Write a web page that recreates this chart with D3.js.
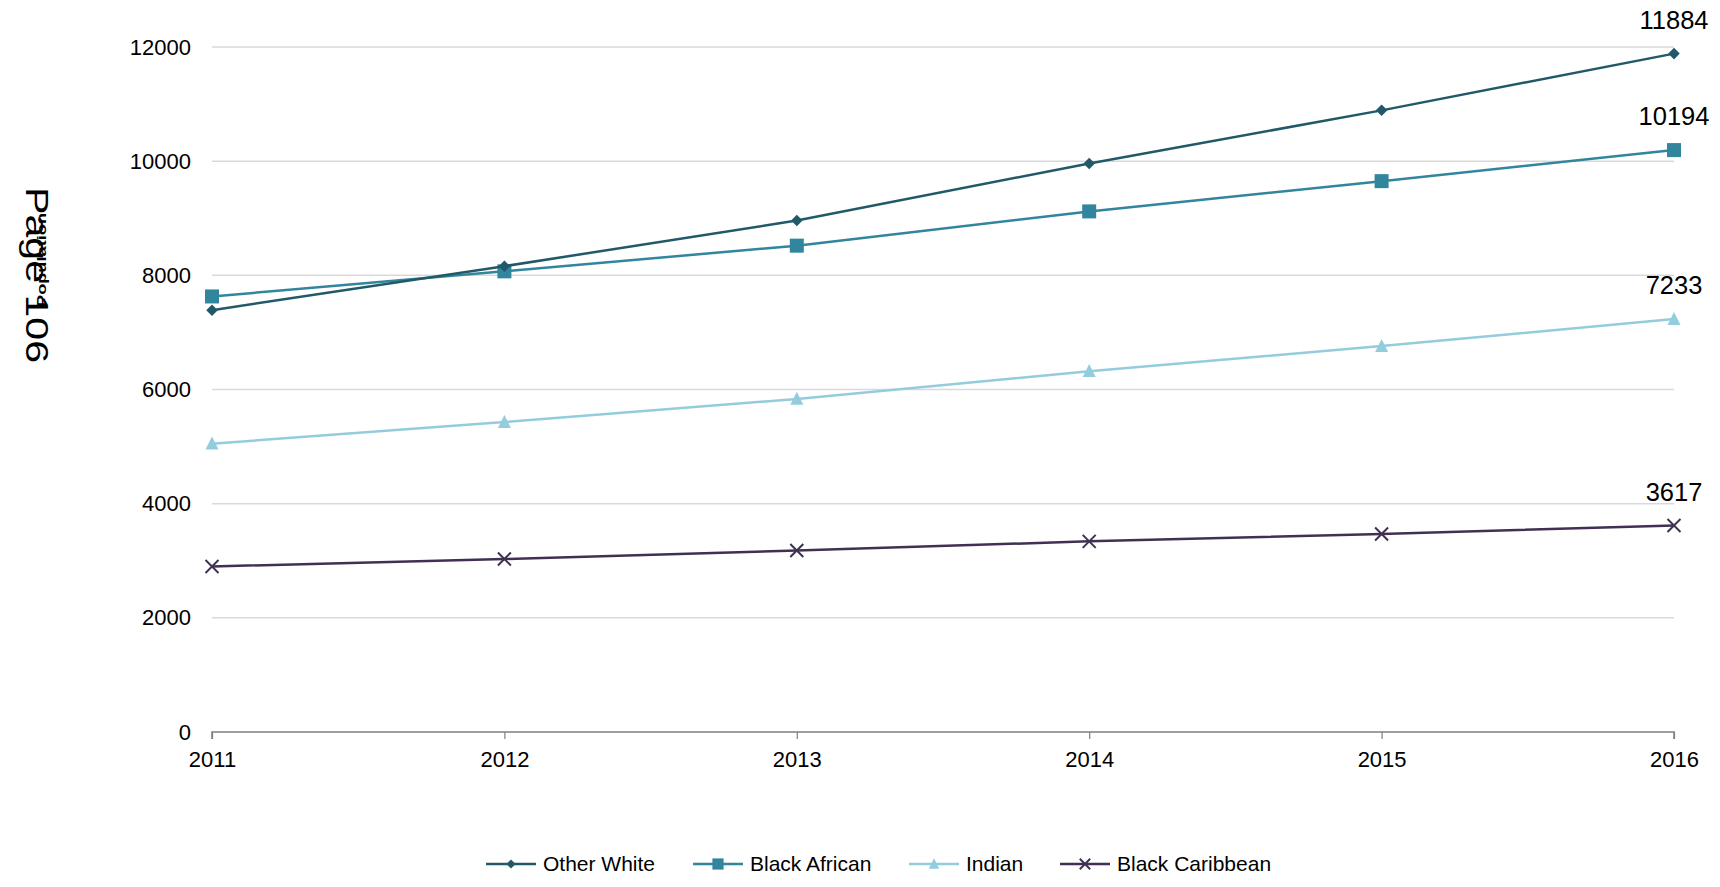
<!DOCTYPE html>
<html>
<head>
<meta charset="utf-8">
<script src="https://cdn.jsdelivr.net/npm/d3@7"></script>
<style>
  html, body { margin: 0; padding: 0; background: #fff; }
  svg { display: block; font-family: "Liberation Sans", Arial, sans-serif; }
</style>
</head>
<body>
<svg id="chart" width="1720" height="887"></svg>
<script>
// Population by ethnic group, 2011–2016
const years = [2011, 2012, 2013, 2014, 2015, 2016];
const otherWhite     = [7390, 8160, 8960, 9960, 10890, 11884];
const blackAfrican   = [7630, 8070, 8520, 9120, 9650, 10194];
const indian         = [5050, 5430, 5835, 6320, 6760, 7233];
const blackCaribbean = [2900, 3030, 3180, 3340, 3470, 3617];
const seriesNames = ["Other White", "Black African", "Indian", "Black Caribbean"];
const yTicks = [0, 2000, 4000, 6000, 8000, 10000, 12000];

const series = [
  { name: seriesNames[0], values: otherWhite,     color: "#215968", marker: "diamond" },
  { name: seriesNames[1], values: blackAfrican,   color: "#31859C", marker: "square" },
  { name: seriesNames[2], values: indian,         color: "#93CDDD", marker: "triangle" },
  { name: seriesNames[3], values: blackCaribbean, color: "#403152", marker: "cross" }
];

const svg = d3.select("#chart");
const plot = { left: 212, right: 1674, top: 47, bottom: 732 };

const x = d3.scalePoint().domain(years).range([plot.left, plot.right]);
const y = d3.scaleLinear().domain([0, 12000]).range([plot.bottom, plot.top]);

// Horizontal gridlines
svg.append("g")
  .selectAll("line")
  .data(yTicks.filter(d => d > 0))
  .join("line")
  .attr("x1", plot.left).attr("x2", plot.right)
  .attr("y1", d => y(d)).attr("y2", d => y(d))
  .attr("stroke", "#d9d9d9").attr("stroke-width", 1.5);

// Y axis labels
const yAxis = svg.append("g")
  .attr("transform", `translate(${plot.left},0)`)
  .call(d3.axisLeft(y).tickValues(yTicks).tickSize(0).tickPadding(21).tickFormat(d3.format("d")));
yAxis.select(".domain").remove();
yAxis.selectAll("text").attr("font-size", 22).attr("fill", "#000")
  .attr("font-family", "Liberation Sans, Arial, sans-serif");

// X axis
const xAxis = svg.append("g")
  .attr("transform", `translate(0,${plot.bottom})`)
  .call(d3.axisBottom(x).tickSize(7).tickPadding(12).tickFormat(d3.format("d")));
xAxis.select(".domain").attr("stroke", "#7f7f7f").attr("stroke-width", 1.5)
  .attr("d", `M${plot.left},7V0H${plot.right}V7`);
xAxis.selectAll(".tick line").attr("stroke", "#7f7f7f").attr("stroke-width", 1.2);
xAxis.selectAll("text").attr("font-size", 22).attr("fill", "#000")
  .attr("font-family", "Liberation Sans, Arial, sans-serif");

// Page stamp (reads downward) and y-axis title (reads upward)
svg.append("text")
  .attr("transform", "translate(26,187) rotate(90)")
  .attr("font-size", 31)
  .attr("textLength", 176).attr("lengthAdjust", "spacingAndGlyphs")
  .attr("fill", "#000")
  .text("Page 106");
svg.append("text")
  .attr("transform", "translate(46,307) rotate(-90)")
  .attr("font-size", 12.5).attr("font-weight", "bold")
  .attr("textLength", 94).attr("lengthAdjust", "spacingAndGlyphs")
  .attr("fill", "#000")
  .text("Population");

// Marker shapes
function drawMarker(g, type, color, size) {
  if (type === "diamond") {
    g.append("path").attr("d", d3.symbol(d3.symbolDiamond2, size * size * 0.5)())
      .attr("fill", color);
  } else if (type === "square") {
    g.append("rect").attr("x", -size / 2).attr("y", -size / 2)
      .attr("width", size).attr("height", size).attr("fill", color);
  } else if (type === "triangle") {
    const h = size;
    g.append("path").attr("d", `M0,${-h * 0.55}L${size / 2},${h * 0.45}L${-size / 2},${h * 0.45}Z`)
      .attr("fill", color);
  } else if (type === "cross") {
    const s = size / 2;
    g.append("path").attr("d", `M${-s},${-s}L${s},${s}M${-s},${s}L${s},${-s}`)
      .attr("stroke", color).attr("stroke-width", 2).attr("fill", "none");
  }
}
const markerSize = { diamond: 13, square: 14, triangle: 13, cross: 13 };

const line = d3.line().x((d, i) => x(years[i])).y(d => y(d));

// Draw series back to front so the first series sits on top
[...series].reverse().forEach(s => {
  const g = svg.append("g");
  g.append("path").datum(s.values).attr("d", line)
    .attr("fill", "none").attr("stroke", s.color).attr("stroke-width", 2.5);
  s.values.forEach((v, i) => {
    const m = g.append("g").attr("transform", `translate(${x(years[i])},${y(v)})`);
    drawMarker(m, s.marker, s.color, markerSize[s.marker]);
  });
  // Final-year value label
  const last = s.values.length - 1;
  g.append("text")
    .attr("x", x(years[last])).attr("y", y(s.values[last]) - 25)
    .attr("text-anchor", "middle").attr("font-size", 25.5).attr("fill", "#000")
    .text(s.values[last]);
});

// Legend
const legendX = [486, 693, 909, 1060];
const legend = svg.append("g").attr("transform", "translate(0,864)");
series.forEach((s, i) => {
  const g = legend.append("g").attr("transform", `translate(${legendX[i]},0)`);
  g.append("line").attr("x1", 0).attr("x2", 50).attr("y1", 0).attr("y2", 0)
    .attr("stroke", s.color).attr("stroke-width", 2.5);
  const m = g.append("g").attr("transform", "translate(25,0)");
  drawMarker(m, s.marker, s.color, markerSize[s.marker] * 0.8);
  g.append("text").attr("x", 57).attr("y", 0).attr("dy", "0.35em")
    .attr("font-size", 21).attr("fill", "#000").text(s.name);
});
</script>
</body>
</html>
